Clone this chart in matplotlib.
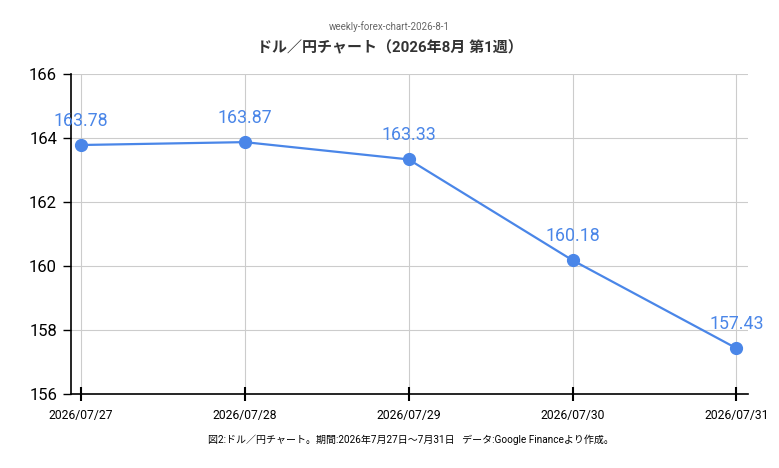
import matplotlib
matplotlib.use("Agg")
import matplotlib.pyplot as plt

plt.rcParams['font.family'] = ['Roboto', 'Noto Sans CJK JP', 'DejaVu Sans']

dates = ["2026/07/27", "2026/07/28", "2026/07/29", "2026/07/30", "2026/07/31"]
rates = [163.78, 163.87, 163.33, 160.18, 157.43]
yticks = [156, 158, 160, 162, 164, 166]

subtitle = "weekly-forex-chart-2026-8-1"
title = "ドル／円チャート（2026年8月 第1週）"
footnote = "図2:ドル／円チャート。期間:2026年7月27日〜7月31日   データ:Google Financeより作成。"

blue = "#4a86e8"

fig = plt.figure(figsize=(7.79, 4.68), dpi=100)
ax = fig.add_axes([0.0911, 0.158, 0.869, 0.684])

x = list(range(len(dates)))
ax.plot(x, rates, color=blue, lw=1.6, marker='o', markersize=8.5, zorder=3, clip_on=False)
for xi, v in zip(x, rates):
    ax.annotate(f"{v:.2f}", (xi, v), xytext=(0, 11), textcoords='offset points',
                ha='center', va='bottom', color=blue, fontsize=12.8)

ax.set_xlim(-0.06, 4.07)
ax.set_ylim(156, 166)
ax.set_yticks(yticks)
ax.set_xticks(x)
ax.set_xticklabels(dates, fontsize=8.7)
ax.tick_params(axis='y', labelsize=12, length=6, width=1, direction='out', pad=4)
ax.tick_params(axis='x', length=10, width=1.5, direction='inout', pad=6)

ax.grid(True, color='#cccccc', lw=0.8)
ax.set_axisbelow(True)
for s in ['top', 'right']:
    ax.spines[s].set_visible(False)
ax.spines['left'].set_linewidth(1.2)
ax.spines['bottom'].set_linewidth(1.2)

fig.text(0.5, 0.944, subtitle, ha='center', va='center', fontsize=7, color='#666666')
fig.text(0.5, 0.898, title, ha='center', va='center', fontsize=10.8, fontweight='bold', color='#333333')
fig.text(0.527, 0.06, footnote, ha='center', va='center', fontsize=7.2, color='#000000')

fig.savefig("out.png", dpi=100)
